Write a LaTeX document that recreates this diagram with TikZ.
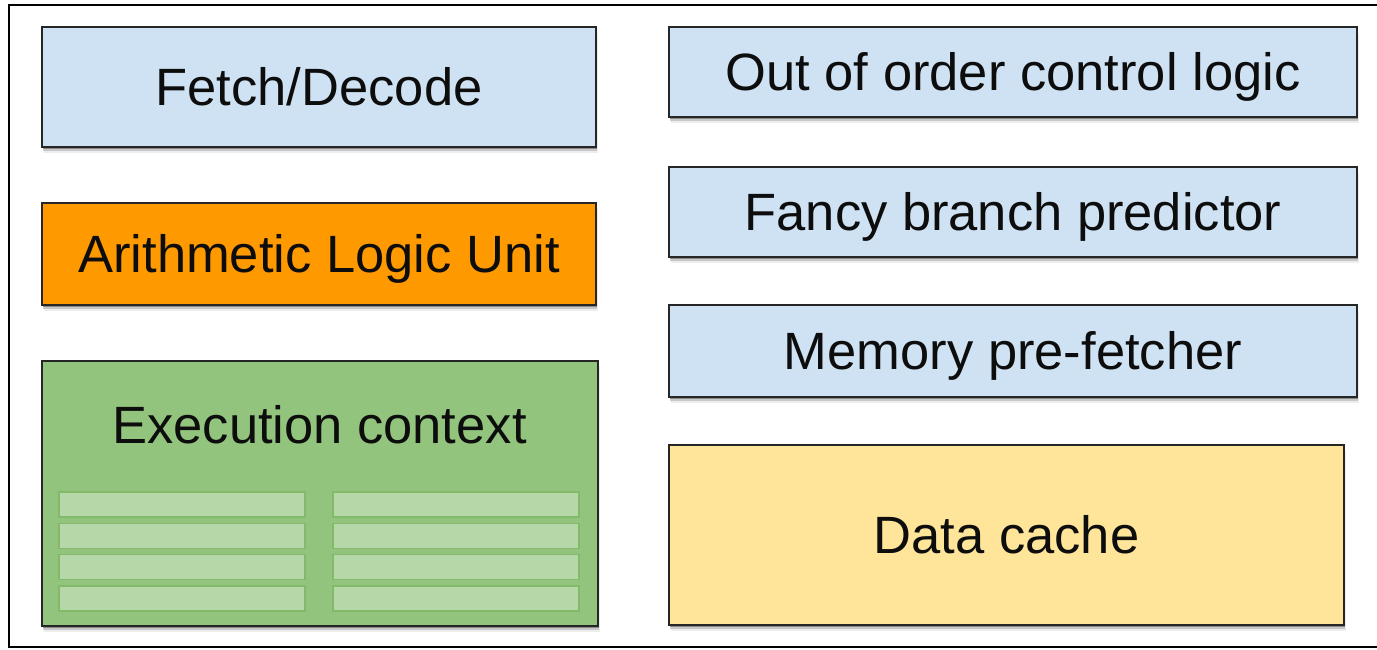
\documentclass[tikz,border=0pt]{standalone}
\usepackage{fontspec}
\setmainfont{Liberation Sans}
\usetikzlibrary{shadows}

\definecolor{unitblue}{HTML}{CFE2F3}
\definecolor{aluorange}{HTML}{FF9900}
\definecolor{ctxgreen}{HTML}{93C47D}
\definecolor{reggreen}{HTML}{B6D7A8}
\definecolor{regedge}{HTML}{82B96B}
\definecolor{cacheyellow}{HTML}{FFE599}
\definecolor{edge}{HTML}{262626}

\tikzset{
  unit/.style={draw=edge, line width=1pt, inner sep=0pt,
    font=\fontsize{26.25}{30}\selectfont, text=black!95,
    text height=18.9pt, text depth=0pt,
    drop shadow={shadow xshift=0.4pt, shadow yshift=-1.2pt, opacity=0.30, fill=black},
    drop shadow={shadow xshift=0.7pt, shadow yshift=-2.2pt, opacity=0.16, fill=black},
    drop shadow={shadow xshift=1pt, shadow yshift=-3.2pt, opacity=0.07, fill=black}},
  reg/.style={draw=regedge, line width=0.7pt, fill=reggreen, inner sep=0pt,
    minimum width=123pt, minimum height=12.5pt},
  label/.style={font=\fontsize{26.25}{30}\selectfont, text=black!95, inner sep=0pt,
    text height=18.9pt, text depth=0pt}
}

\begin{document}
\begin{tikzpicture}[x=0.5pt, y=-0.5pt]
  \useasboundingbox (0,0) rectangle (1377,649);

  % outer frame
  \coordinate (ftr) at (1377,5);
  \coordinate (ftl) at (9,5);
  \coordinate (fbl) at (9,647);
  \coordinate (fbr) at (1377,647);
  \draw[line width=1.2pt, black] (ftr) -- (ftl) -- (fbl) -- (fbr);

  % left column
  \node[unit, fill=unitblue, minimum width=277pt, minimum height=60pt]
    (fetch) at (319,87) {Fetch/Decode};
  \node[unit, fill=aluorange, minimum width=277pt, minimum height=51pt]
    (alu) at (319,254) {Arithmetic Logic Unit};
  \node[unit, fill=ctxgreen, minimum width=278pt, minimum height=132.5pt]
    (ctx) at (320,493.5) {};
  \node[label] (ctxlabel) at (319.5,425) {Execution context};

  % register slots inside the execution context
  \foreach \r [count=\i] in {504.5,535.8,567.1,598.4} {
    \node[reg] (regL\i) at (182,\r) {};
    \node[reg] (regR\i) at (456,\r) {};
  }

  % right column
  \node[unit, fill=unitblue, minimum width=344pt, minimum height=45pt]
    (ooo) at (1013,72) {Out of order control logic};
  \node[unit, fill=unitblue, minimum width=344pt, minimum height=45pt]
    (branch) at (1013,212) {Fancy branch predictor};
  \node[unit, fill=unitblue, minimum width=344pt, minimum height=46pt]
    (prefetch) at (1013,351) {Memory pre-fetcher};
  \node[unit, fill=cacheyellow, minimum width=337.5pt, minimum height=90pt]
    (cache) at (1006.5,535) {Data cache};
\end{tikzpicture}
\end{document}
